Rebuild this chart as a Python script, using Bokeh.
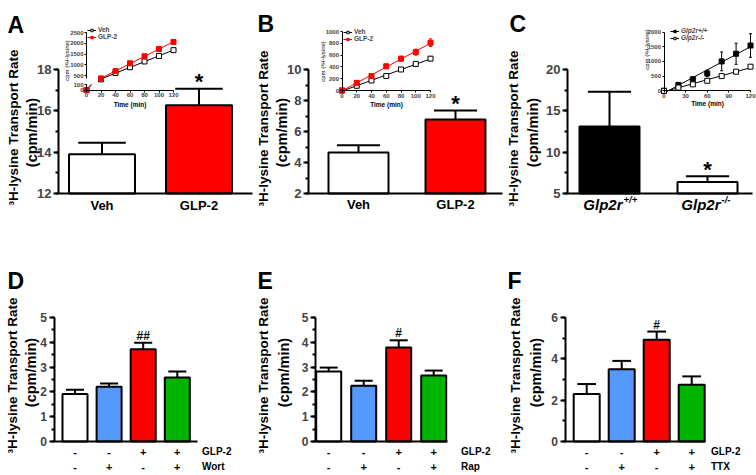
import numpy as np
from bokeh.plotting import figure
from bokeh.models import Range1d, LinearAxis, FixedTicker, SingleIntervalTicker, Legend, LegendItem
from bokeh.core.properties import value
from bokeh.embed import file_html
from bokeh.resources import INLINE

# ---------------- data ----------------
# Panels A-C: 3H-lysine transport rate (cpm/min), mean and SEM
a_groups = ["Veh", "GLP-2"]
a_rate = [13.9, 16.27]
a_sem = [0.55, 0.80]
a_sig = ["", "*"]

b_groups = ["Veh", "GLP-2"]
b_rate = [4.65, 6.77]
b_sem = [0.47, 0.58]
b_sig = ["", "*"]

c_gene = "Glp2r"
c_genotypes = ["+/+", "-/-"]
c_rate = [13.1, 6.4]
c_sem = [4.2, 0.7]
c_sig = ["", "*"]

# Insets: cumulative uptake, cpm (3H-lysine) vs time (min)
inset_time = [0, 20, 40, 60, 80, 100, 120]
a_ins_veh = [0, 320, 616, 885, 1154, 1410, 1678]
a_ins_veh_sem = [0, 20, 25, 30, 40, 45, 55]
a_ins_glp = [0, 365, 706, 1065, 1396, 1736, 2060]
a_ins_glp_sem = [0, 30, 35, 50, 60, 85, 110]
b_ins_veh = [0, 80, 170, 245, 356, 450, 540]
b_ins_veh_sem = [0, 10, 12, 15, 20, 30, 35]
b_ins_glp = [0, 130, 245, 410, 540, 650, 810]
b_ins_glp_sem = [0, 15, 20, 35, 40, 50, 65]
c_ins_wt = [0, 200, 390, 590, 1000, 1260, 1540]
c_ins_wt_sem = [0, 40, 80, 110, 320, 360, 400]
c_ins_ko = [0, 110, 220, 340, 500, 650, 820]
c_ins_ko_sem = [0, 10, 15, 20, 25, 30, 35]

# Panels D-F: GLP-2 +/- inhibitor
treat_glp2 = ["-", "-", "+", "+"]
treat_inhib = ["-", "+", "-", "+"]
d_inhibitor = "Wort"
d_rate = [1.92, 2.21, 3.72, 2.58]
d_sem = [0.17, 0.13, 0.26, 0.24]
d_sig = ["", "", "##", ""]
e_inhibitor = "Rap"
e_rate = [2.82, 2.25, 3.79, 2.66]
e_sem = [0.16, 0.20, 0.29, 0.20]
e_sig = ["", "", "#", ""]
f_inhibitor = "TTX"
f_rate = [2.30, 3.50, 4.92, 2.75]
f_sem = [0.48, 0.40, 0.40, 0.40]
f_sig = ["", "", "#", ""]

# ---------------- styles / layout ----------------
FONT = "Liberation Sans"
FV = value(FONT)
colors_ab = ["white", "#FF0000"]
colors_c = ["black", "white"]
colors_4 = ["white", "#5599FF", "#FF0000", "#00B400"]

W, H = 756, 475
OX, OY = 0, 0

p = figure(width=W, height=H, title=None, output_backend="svg", toolbar_location=None,
           x_range=Range1d(OX, OX + W), y_range=Range1d(OY + H, OY),
           x_axis_location=None, y_axis_location=None, min_border=0,
           outline_line_color=None, background_fill_color="white",
           border_fill_color="white")
p.xgrid.visible = False
p.ygrid.visible = False


def xr(d0, d1, px0, px1):
    s = (px1 - px0) / (d1 - d0)
    start = d0 - (px0 - OX) / s
    return Range1d(start=start, end=start + W / s)


def yr(d0, d1, py0, py1):
    b0 = OY + H - py0
    b1 = OY + H - py1
    s = (b1 - b0) / (d1 - d0)
    start = d0 - b0 / s
    return Range1d(start=start, end=start + H / s)


def txt(xs, ys, texts, size, xn="default", yn="default", align="center",
        baseline="middle", angle=0.0, style="bold", x_offset=0, y_offset=0, color="black"):
    p.text(x=list(xs), y=list(ys), text=list(texts), text_font=FV, text_font_size=size,
           text_font_style=style, text_align=align, text_baseline=baseline, angle=angle,
           text_color=color, x_offset=x_offset, y_offset=y_offset,
           x_range_name=xn, y_range_name=yn)


LAY = {
    "A": dict(ax=58, ax_end=252, base=193, top=69, ymin=12, ymax=18, step=2, c0=101.5, sp=97, bw=66, fs="13px"),
    "B": dict(ax=308, ax_end=502, base=193, top=69, ymin=2, ymax=10, step=2, c0=358, sp=97, bw=60, fs="13px"),
    "C": dict(ax=567, ax_end=752, base=193, top=69, ymin=5, ymax=20, step=5, c0=609, sp=98, bw=60, fs="13px"),
    "D": dict(ax=53.5, ax_end=197, base=441, top=317, ymin=0, ymax=5, step=1, c0=74.5, sp=34.1, bw=25, fs="12px"),
    "E": dict(ax=315, ax_end=447, base=441, top=317, ymin=0, ymax=5, step=1, c0=328.2, sp=35, bw=25, fs="12px"),
    "F": dict(ax=564.5, ax_end=705, base=441, top=317, ymin=0, ymax=6, step=2, c0=586.2, sp=35, bw=26, fs="12px"),
}


def bar_panel(key, rates, sems, colors, sigs, sig_size, sig_dy):
    L = LAY[key]
    xn, yn = key + "_x", key + "_y"
    p.extra_x_ranges[xn] = xr(0, 1, L["c0"], L["c0"] + L["sp"])
    p.extra_y_ranges[yn] = yr(L["ymin"], L["ymax"], L["base"], L["top"])
    rates = np.asarray(rates, float)
    sems = np.asarray(sems, float)
    idx = np.arange(len(rates), dtype=float)
    bw = L["bw"] / L["sp"]
    cap = bw * 0.36
    p.segment(x0=idx, y0=rates, x1=idx, y1=rates + sems, line_color="black", line_width=2,
              x_range_name=xn, y_range_name=yn)
    p.segment(x0=idx - cap, y0=rates + sems, x1=idx + cap, y1=rates + sems, line_color="black",
              line_width=2, x_range_name=xn, y_range_name=yn)
    p.vbar(x=idx, top=rates, bottom=L["ymin"], width=bw, fill_color=colors, line_color="black",
           line_width=2, x_range_name=xn, y_range_name=yn)
    ax_loc = (L["ax"] - L["c0"]) / L["sp"]
    ax_end = (L["ax_end"] - L["c0"]) / L["sp"]
    yax = LinearAxis(x_range_name=xn, y_range_name=yn, fixed_location=ax_loc,
                     bounds=(L["ymin"], L["ymax"]),
                     ticker=SingleIntervalTicker(interval=L["step"], num_minor_ticks=2),
                     axis_line_width=2, major_tick_line_width=2, minor_tick_line_width=2,
                     major_tick_out=5, major_tick_in=0, minor_tick_out=3, minor_tick_in=0,
                     major_label_text_font=FONT, major_label_text_font_size=L["fs"],
                     major_label_text_font_style="bold", major_label_standoff=2)
    p.add_layout(yax, "left")
    xax = LinearAxis(x_range_name=xn, y_range_name=yn, fixed_location=L["ymin"],
                     bounds=(ax_loc, ax_end), ticker=FixedTicker(ticks=[]),
                     axis_line_width=2, major_tick_out=0, major_tick_in=0,
                     minor_tick_out=0, minor_tick_in=0, major_label_text_font_size="0px")
    p.add_layout(xax, "below")
    txt(idx, rates + sems, sigs, sig_size, xn, yn, baseline="alphabetic", y_offset=sig_dy)
    return xn, yn, idx, L


# ---- panel A, B, C main bars ----
xn, yn, idx, L = bar_panel("A", a_rate, a_sem, colors_ab, a_sig, "22px", -7)
txt(idx, [L["ymin"]] * len(idx), a_groups, "13px", xn, yn, y_offset=12)
xn, yn, idx, L = bar_panel("B", b_rate, b_sem, colors_ab, b_sig, "22px", -7)
txt(idx, [L["ymin"]] * len(idx), b_groups, "13px", xn, yn, y_offset=11)
xn, yn, idx, L = bar_panel("C", c_rate, c_sem, colors_c, c_sig, "22px", -7)
txt(idx, [L["ymin"]] * len(idx), [c_gene] * len(idx), "15px", xn, yn, align="right",
    style="bold italic", x_offset=13, y_offset=11)
txt(idx, [L["ymin"]] * len(idx), c_genotypes, "9.5px", xn, yn, align="left",
    style="bold italic", x_offset=14, y_offset=6)

# ---- panels D, E, F ----
for key, rates, sems, sigs, inhib, labx in [("D", d_rate, d_sem, d_sig, d_inhibitor, 201.5),
                                            ("E", e_rate, e_sem, e_sig, e_inhibitor, 460.5),
                                            ("F", f_rate, f_sem, f_sig, f_inhibitor, 710.5)]:
    xn, yn, idx, L = bar_panel(key, rates, sems, colors_4, sigs, "12px", -7)
    txt(idx, [L["ymin"]] * len(idx), treat_glp2, "11px", xn, yn, y_offset=10)
    txt(idx, [L["ymin"]] * len(idx), treat_inhib, "11px", xn, yn, y_offset=25)
    txt([labx, labx], [L["base"] + 10, L["base"] + 25], ["GLP-2", inhib], "10px", align="left")

# ---- panel letters and y-axis titles ----
letters = {"A": (7, 24), "B": (257, 23), "C": (509, 23), "D": (7, 280), "E": (257, 280), "F": (507, 280)}
for k, (lx, ly) in letters.items():
    txt([lx], [ly], [k], "23px", align="left", baseline="alphabetic")
ylabs = {"A": ((12.5, 127), (31, 132)), "B": ((262.5, 128), (281, 132)), "C": ((512.5, 128), (532, 132)),
         "D": ((12, 375), (30, 372)), "E": ((263, 375), (283, 372)), "F": ((515, 375), (535, 372))}
for k, ((x1, y1), (x2, y2)) in ylabs.items():
    txt([x1], [y1], ["\u00b3H-lysine Transport Rate"], "13.5px", angle=np.pi / 2)
    txt([x2], [y2], ["(cpm/min)"], "14.5px", angle=np.pi / 2)

# ---------------- insets ----------------
def small_axis(side, xn, yn, loc, bounds, ticks):
    ax = LinearAxis(x_range_name=xn, y_range_name=yn, fixed_location=loc, bounds=bounds,
                    ticker=FixedTicker(ticks=ticks), axis_line_width=1, major_tick_line_width=1,
                    major_tick_out=2, major_tick_in=0, minor_tick_out=0, minor_tick_in=0,
                    major_label_text_font=FONT, major_label_text_font_size="6px",
                    major_label_text_font_style="bold", major_label_standoff=1)
    p.add_layout(ax, side)


def series(t, vals, sems, color, fill, xn, yn, capw, fit_from=None):
    v = np.asarray(vals, float)
    e = np.asarray(sems, float)
    m, b = np.polyfit(t, v, 1)
    t0 = t[0] if fit_from is None else (fit_from - b) / m
    ln = p.line(x=[t0, t[-1]], y=[m * t0 + b, m * t[-1] + b], line_color=color, line_width=1,
                x_range_name=xn, y_range_name=yn)
    p.segment(x0=t, y0=v - e, x1=t, y1=v + e, line_color=color, line_width=1,
              x_range_name=xn, y_range_name=yn)
    p.segment(x0=t - capw, y0=v + e, x1=t + capw, y1=v + e, line_color=color, line_width=1,
              x_range_name=xn, y_range_name=yn)
    p.segment(x0=t - capw, y0=v - e, x1=t + capw, y1=v - e, line_color=color, line_width=1,
              x_range_name=xn, y_range_name=yn)
    sc = p.scatter(x=t, y=v, marker="square", size=5, fill_color=fill, line_color=color,
                   line_width=1, x_range_name=xn, y_range_name=yn)
    return ln, sc, m


def legend(items, vx, vy, style="bold"):
    lg = Legend(items=[LegendItem(label=lab, renderers=list(r)) for lab, r in items],
                location=(vx, vy), orientation="vertical", label_text_font=FONT,
                label_text_font_size="6.5px", label_text_font_style=style, glyph_width=9,
                glyph_height=6, label_height=6, label_width=10, spacing=0, padding=0, margin=0,
                label_standoff=2, border_line_color=None, background_fill_alpha=0)
    p.add_layout(lg)


t = np.asarray(inset_time, float)
pos = t > 0

# inset A (broken y axis)
p.extra_x_ranges["Ai_x"] = xr(0, 120, 86, 173)
p.extra_y_ranges["Ai_hi"] = yr(500, 2500, 75, 32)
p.extra_y_ranges["Ai_lo"] = yr(0, 100, 89.5, 84)
capA = 1.5 * 120 / 87
hi_start = 350
res = []
for vals, sems, col, fill in [(a_ins_veh, a_ins_veh_sem, "black", "white"),
                              (a_ins_glp, a_ins_glp_sem, "#FF0000", "#FF0000")]:
    ln, sc, m = series(t[pos], np.asarray(vals)[pos], np.asarray(sems)[pos], col, fill,
                       "Ai_x", "Ai_hi", capA, fit_from=hi_start)
    lo_t = np.asarray(inset_time)[~pos]
    lo_v = np.asarray(vals)[~pos]
    p.line(x=[lo_t[0], lo_t[0] + 100 / m], y=[lo_v[0], lo_v[0] + 100], line_color=col,
           line_width=1, x_range_name="Ai_x", y_range_name="Ai_lo")
    p.scatter(x=lo_t, y=lo_v, marker="square", size=5, fill_color=fill, line_color=col,
              x_range_name="Ai_x", y_range_name="Ai_lo")
    res.append((ln, sc))
small_axis("left", "Ai_x", "Ai_hi", 0, (hi_start, 2500), [500, 1000, 1500, 2000, 2500])
small_axis("left", "Ai_x", "Ai_lo", 0, (0, 100), [0, 100])
small_axis("below", "Ai_x", "Ai_lo", 0, (0, 120), [0, 20, 40, 60, 80, 100, 120])
legend([("Veh", res[0]), ("GLP-2", res[1])], 87, 435)
txt([66.5], [60], ["cpm (\u00b3H-lysine)"], "6px", angle=np.pi / 2, style="normal")
txt([129.5], [103.5], ["Time (min)"], "6.5px")

# inset B
p.extra_x_ranges["Bi_x"] = xr(0, 120, 341.5, 430)
p.extra_y_ranges["Bi_y"] = yr(0, 1000, 90, 31)
capB = 1.5 * 120 / 88.5
resB = []
for vals, sems, col, fill in [(b_ins_veh, b_ins_veh_sem, "black", "white"),
                              (b_ins_glp, b_ins_glp_sem, "#FF0000", "#FF0000")]:
    ln, sc, m = series(t, vals, sems, col, fill, "Bi_x", "Bi_y", capB)
    resB.append((ln, sc))
small_axis("left", "Bi_x", "Bi_y", 0, (0, 1000), [0, 200, 400, 600, 800, 1000])
small_axis("below", "Bi_x", "Bi_y", 0, (0, 120), [0, 20, 40, 60, 80, 100, 120])
legend([("Veh", resB[0]), ("GLP-2", resB[1])], 343, 433)
txt([322], [61], ["cpm (\u00b3H-lysine)"], "6px", angle=np.pi / 2, style="normal")
txt([386], [103.5], ["Time (min)"], "6.5px")

# inset C
p.extra_x_ranges["Ci_x"] = xr(0, 120, 663.5, 750)
p.extra_y_ranges["Ci_y"] = yr(0, 2000, 90.3, 31.5)
capC = 1.5 * 120 / 86.5
resC = []
for vals, sems, col, fill in [(c_ins_wt, c_ins_wt_sem, "black", "black"),
                              (c_ins_ko, c_ins_ko_sem, "black", "white")]:
    ln, sc, m = series(t, vals, sems, col, fill, "Ci_x", "Ci_y", capC)
    resC.append((ln, sc))
small_axis("left", "Ci_x", "Ci_y", 0, (0, 2000), [0, 500, 1000, 1500, 2000])
small_axis("below", "Ci_x", "Ci_y", 0, (0, 120), [0, 30, 60, 90, 120])
legend([(c_gene + c_genotypes[0], resC[0]), (c_gene + c_genotypes[1], resC[1])], 670, 434,
       style="bold italic")
txt([646], [49], ["cpm (\u00b3H-lysine)"], "6px", angle=np.pi / 2, style="normal")
txt([707], [102.5], ["Time (min)"], "6.5px")

open("out.html", "w").write(file_html(p, INLINE))
